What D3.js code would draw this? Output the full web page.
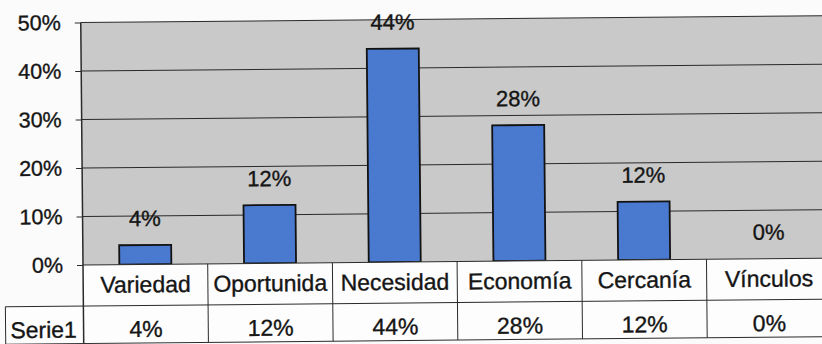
<!DOCTYPE html>
<html>
<head>
<meta charset="utf-8">
<script src="https://cdn.jsdelivr.net/npm/d3@7/dist/d3.min.js"></script>
<style>
  html, body { margin: 0; padding: 0; background: #fbfbfb; }
  svg { display: block; }
  text { font-family: "Liberation Sans", Arial, sans-serif; fill: #151515; stroke: #151515; stroke-width: 0.35px; }
</style>
</head>
<body>
<svg id="chart" width="822" height="344"></svg>
<script>
// Chart data
const categories = ["Variedad", "Oportunida", "Necesidad", "Economía", "Cercanía", "Vínculos"];
const seriesName = "Serie1";
const values = [0.04, 0.12, 0.44, 0.28, 0.12, 0.00];
const yTicks = [0, 0.1, 0.2, 0.3, 0.4, 0.5];

const plotLeft = 83, plotTop = 22.5, plotBottom = 265;
const colW = 124.7;
const rowHeadBottom = 306, rowValBottom = 343.5;
const tableLeft = 5;
const tickFont = "21.5px", labelFont = "22px", tableFont = "23px";

const svg = d3.select("#chart");
// whole figure is drawn with a slight counter-clockwise tilt
const g = svg.append("g").attr("transform", `rotate(-0.53, ${plotLeft}, ${plotBottom})`);

const x = d3.scaleBand()
  .domain(categories)
  .range([plotLeft, plotLeft + colW * categories.length])
  .paddingInner(0).paddingOuter(0);

const y = d3.scaleLinear().domain([0, 0.5]).range([plotBottom, plotTop]);
const plotRight = x.range()[1];
const pct = d3.format(".0%");

// plot area background
g.append("rect")
  .attr("x", plotLeft).attr("y", y(0.5))
  .attr("width", plotRight - plotLeft).attr("height", y(0) - y(0.5))
  .attr("fill", "#c9c9c9");

// horizontal gridlines
g.selectAll("line.grid")
  .data(yTicks.filter(d => d > 0))
  .join("line")
  .attr("class", "grid")
  .attr("x1", plotLeft).attr("x2", plotRight)
  .attr("y1", d => y(d)).attr("y2", d => y(d))
  .attr("stroke", "#2a2a2a").attr("stroke-width", 1);

// bars
const barW = x.bandwidth() * 0.417;
g.selectAll("rect.bar")
  .data(values)
  .join("rect")
  .attr("class", "bar")
  .attr("x", (d, i) => x(categories[i]) + (x.bandwidth() - barW) / 2)
  .attr("y", d => y(d))
  .attr("width", barW)
  .attr("height", d => y(0) - y(d))
  .attr("fill", "#4a7ad0")
  .attr("stroke", "#121212")
  .attr("stroke-width", 1.8);

// value labels above the bars
g.selectAll("text.vlabel")
  .data(values)
  .join("text")
  .attr("class", "vlabel")
  .attr("x", (d, i) => x(categories[i]) + x.bandwidth() / 2)
  .attr("y", d => y(d) - 19)
  .attr("text-anchor", "middle")
  .style("font-size", labelFont)
  .text(d => pct(d));

// y axis
const yAxis = d3.axisLeft(y)
  .tickValues(yTicks)
  .tickFormat(pct)
  .tickSize(6)
  .tickPadding(14);

const ax = g.append("g")
  .attr("transform", `translate(${plotLeft},0)`)
  .call(yAxis);
ax.select(".domain").remove();
ax.selectAll(".tick line").attr("stroke", "#2a2a2a");
ax.selectAll(".tick text")
  .style("font-size", tickFont)
  .attr("fill", "#151515")
  .style("font-family", "'Liberation Sans', Arial, sans-serif");

// data table below the plot
const table = g.append("g");
table.append("rect")
  .attr("x", plotLeft).attr("y", plotBottom)
  .attr("width", plotRight - plotLeft).attr("height", rowValBottom - plotBottom)
  .attr("fill", "#fdfdfd");
table.append("rect")
  .attr("x", tableLeft).attr("y", rowHeadBottom)
  .attr("width", plotLeft - tableLeft).attr("height", rowValBottom - rowHeadBottom)
  .attr("fill", "#fdfdfd");

const lineColor = "#2a2a2a";
// horizontal table rules
[[plotLeft, plotRight, plotBottom], [tableLeft, plotRight, rowHeadBottom], [tableLeft, plotRight, rowValBottom]]
  .forEach(([x1, x2, yy]) => {
    table.append("line")
      .attr("x1", x1).attr("x2", x2).attr("y1", yy).attr("y2", yy)
      .attr("stroke", lineColor).attr("stroke-width", 1);
  });
// vertical table rules (column boundaries)
const bounds = categories.map(c => x(c)).concat([plotRight]);
table.selectAll("line.vrule")
  .data(bounds)
  .join("line")
  .attr("class", "vrule")
  .attr("x1", d => d).attr("x2", d => d)
  .attr("y1", (d, i) => i === 0 ? plotTop : plotBottom)
  .attr("y2", rowValBottom)
  .attr("stroke", lineColor).attr("stroke-width", (d, i) => i === 0 ? 1.5 : 1);
table.append("line")
  .attr("x1", tableLeft).attr("x2", tableLeft)
  .attr("y1", rowHeadBottom).attr("y2", rowValBottom)
  .attr("stroke", lineColor).attr("stroke-width", 1);

// category header row
table.selectAll("text.cat")
  .data(categories)
  .join("text")
  .attr("class", "cat")
  .attr("x", d => x(d) + x.bandwidth() / 2)
  .attr("y", 293)
  .attr("text-anchor", "middle")
  .style("font-size", tableFont)
  .text(d => d);

// series value row
table.append("text")
  .attr("x", (tableLeft + plotLeft) / 2 - 1)
  .attr("y", 337.5)
  .attr("text-anchor", "middle")
  .style("font-size", tableFont)
  .text(seriesName);

table.selectAll("text.val")
  .data(values)
  .join("text")
  .attr("class", "val")
  .attr("x", (d, i) => x(categories[i]) + x.bandwidth() / 2)
  .attr("y", 337.5)
  .attr("text-anchor", "middle")
  .style("font-size", tableFont)
  .text(d => pct(d));
</script>
</body>
</html>
